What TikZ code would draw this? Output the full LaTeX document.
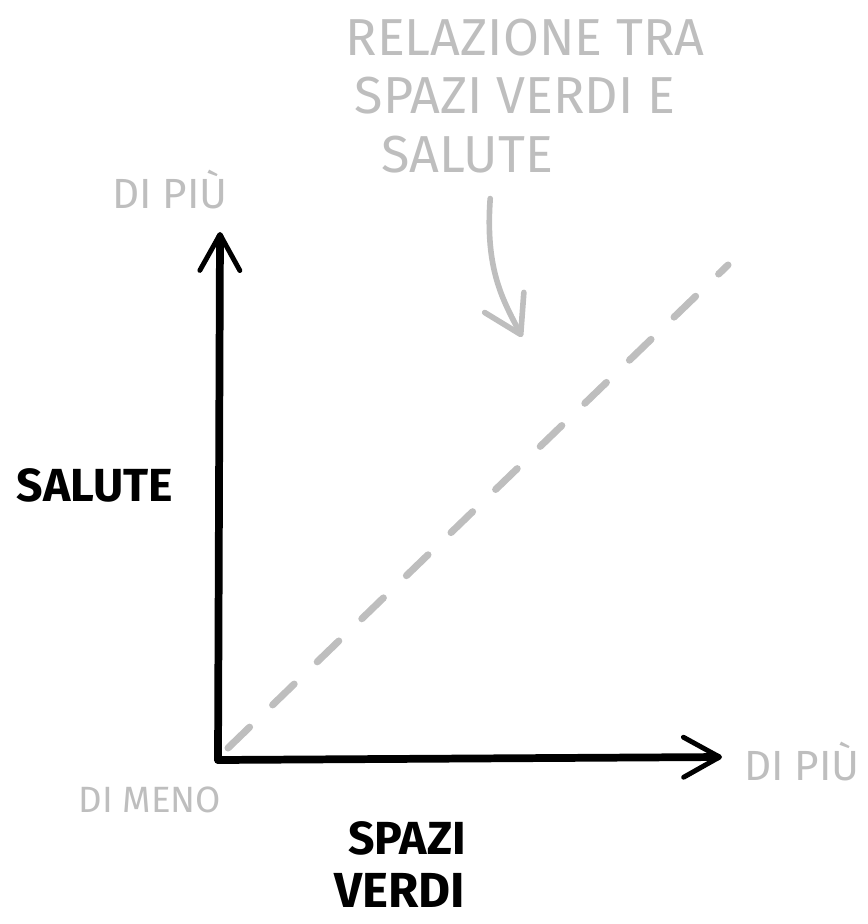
\documentclass[tikz,border=0pt]{standalone}
\usepackage{fontspec}
\setmainfont{Fira Sans}
\usetikzlibrary{arrows.meta}
\definecolor{pencil}{HTML}{BEBEBE}

\begin{document}
\begin{tikzpicture}[x=0.025cm,y=-0.025cm,
  axis/.style={line width=5.5pt,line cap=round,
    -{Straight Barb[length=9mm,width=10mm,line width=3.5pt,round]}},
  pointer/.style={pencil,line width=4pt,line cap=round,
    -{Straight Barb[length=9mm,width=11mm,line width=4pt,round]}},
  note/.style={text=pencil,font=\fontsize{30}{36}\selectfont},
  heading/.style={note,font=\fontsize{37}{44}\selectfont},
  label/.style={font=\bfseries\fontsize{33}{40}\selectfont}]
\useasboundingbox (0,0) rectangle (867,924);

% title above
\node[heading] (title1) at (525,38) {RELAZIONE TRA};
\node[heading] (title2) at (515,96) {SPAZI VERDI E};
\node[heading] (title3) at (467,155) {SALUTE};

% axes
\coordinate (origin) at (218,760);
\coordinate (ytip) at (220,232);
\coordinate (xtip) at (722,757);
\draw[axis] (origin) -- (ytip);
\draw[axis] (origin) -- (xtip);

% relation line
\coordinate (lo) at (228,748);
\coordinate (hi) at (728,265);
\draw[pencil,line width=5pt,line cap=round,dash pattern=on 0.75cm off 0.8cm] (lo) -- (hi);

% arrow from title to line
\coordinate (aim) at (522,337);
\draw[pointer] ([xshift=0.58cm,yshift=-0.5cm]title3.south) .. controls (485,270) and (503,300) .. (aim);

% labels
\node[note] (ymore) at (170,190) {DI PIÙ};
\node[note] (xmore) at (802,762) {DI PIÙ};
\node[note,font=\fontsize{26}{30}\selectfont] (less) at (150,800) {DI MENO};
\node[label] (salute) at (95,485) {SALUTE};
\node[label] (spazi) at (407,838) {SPAZI};
\node[label,font=\bfseries\fontsize{35}{40}\selectfont] (verdi) at (400,890) {VERDI};
\end{tikzpicture}
\end{document}
